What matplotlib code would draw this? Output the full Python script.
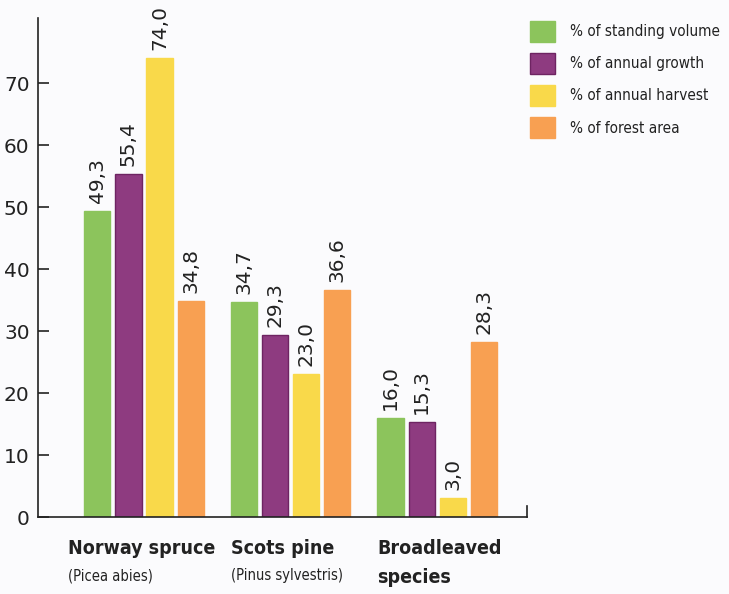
import matplotlib.pyplot as plt
import numpy as np

species = ["Norway spruce", "Scots pine", "Broadleaved"]
sublabels = ["(Picea abies)", "(Pinus sylvestris)", "species"]
series_names = ["% of standing volume", "% of annual growth",
                "% of annual harvest", "% of forest area"]
standing_volume = [49.3, 34.7, 16.0]
annual_growth = [55.4, 29.3, 15.3]
annual_harvest = [74.0, 23.0, 3.0]
forest_area = [34.8, 36.6, 28.3]
colors = ["#8cc45c", "#8e3b80", "#f9d94a", "#f8a052"]
edges = ["#8cc45c", "#6e2462", "#f9d94a", "#f8a052"]


def main():
    plt.rcParams['font.family'] = ['DejaVu Sans']
    plt.rcParams['font.stretch'] = 'condensed'
    fig = plt.figure(figsize=(7.29, 5.94), dpi=100, facecolor="#fbfbfd")
    ax = fig.add_axes([0.052, 0.1296, 0.671, 0.8401])
    ax.set_facecolor("#fbfbfd")

    x = np.arange(len(species))
    step = 0.212
    width = 0.178
    all_series = [standing_volume, annual_growth, annual_harvest, forest_area]
    for i, vals in enumerate(all_series):
        pos = x + (i - 1.5) * step
        ax.bar(pos, vals, width, color=colors[i], edgecolor=edges[i],
               linewidth=1, label=series_names[i])
        for p, v in zip(pos, vals):
            ax.text(p, v + 1.3, f"{v:.1f}".replace(".", ","), rotation=90,
                    ha="center", va="bottom", fontsize=14.5,
                    fontstretch="normal", color="#222222")

    ax.set_xlim(-0.724, 2.614)
    ax.set_ylim(0, 80.5)
    ax.set_yticks(range(0, 80, 10))
    ax.set_xticks([])
    ax.tick_params(axis="y", direction="in", length=8, width=1.2,
                   labelsize=14.5, pad=6, colors="#222222")
    for lab in ax.get_yticklabels():
        lab.set_fontstretch("normal")
    ax.spines["top"].set_visible(False)
    ax.spines["right"].set_bounds(0, 1.7)
    for s in ["left", "bottom", "right"]:
        ax.spines[s].set_linewidth(1.2)
        ax.spines[s].set_color("#222222")

    # category labels under the groups
    text_x = [-0.52, x[1] - 1.5 * step - width / 2, x[2] - 1.5 * step - width / 2]
    for i in range(len(species)):
        ax.text(text_x[i], -3.6, species[i], ha="left", va="top",
                fontsize=14, fontweight="bold", color="#222222")
        bold = i == 2
        ax.text(text_x[i], -8.3, sublabels[i], ha="left", va="top",
                fontsize=14 if bold else 10.5,
                fontweight="bold" if bold else "normal", color="#222222")

    ax.legend(loc="upper left", bbox_to_anchor=(1.0, 1.0), frameon=False,
              fontsize=11, handlelength=1.6, handleheight=1.7,
              handletextpad=1.0, labelspacing=0.75, borderaxespad=0.0,
              borderpad=0.2, labelcolor="#222222")

    plt.savefig("out.png", facecolor=fig.get_facecolor())


if __name__ == '__main__':
    main()
